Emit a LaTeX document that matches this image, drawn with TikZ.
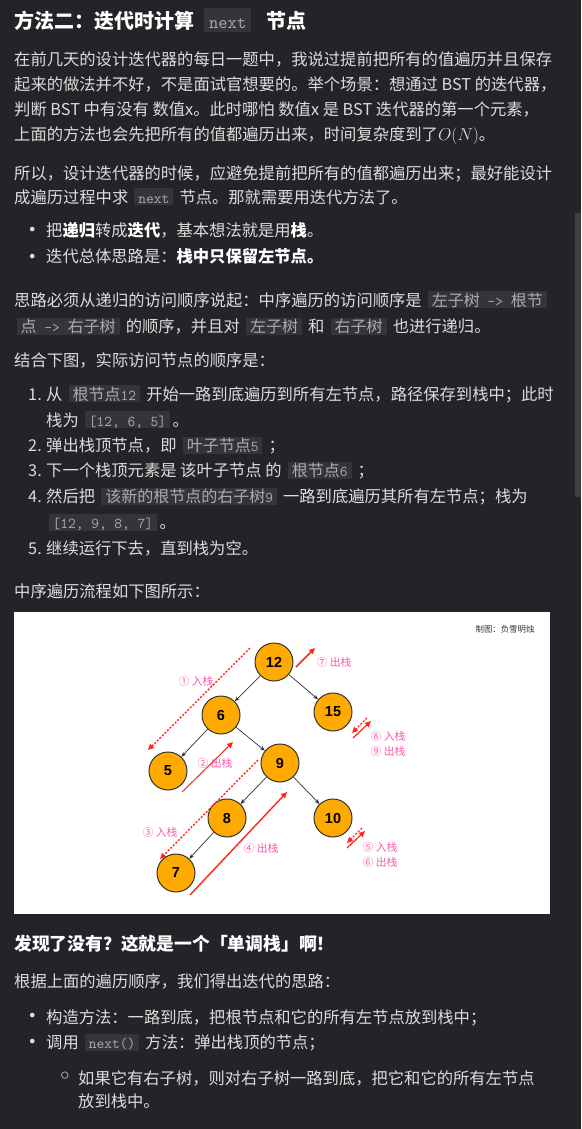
\documentclass[tikz,border=0pt]{standalone}
\usepackage{fontspec}
\usepackage{xcolor}
\usetikzlibrary{calc,arrows.meta}
\setmainfont{Noto Sans CJK SC}
\newfontfamily\dotfont{DejaVu Sans}
\newfontfamily\treefont{Liberation Sans}

\definecolor{pagebg}{RGB}{35,36,40}
\definecolor{bodytext}{RGB}{220,220,220}
\definecolor{codebg}{RGB}{52,53,57}
\definecolor{codetext}{RGB}{172,172,172}
\definecolor{barcol}{RGB}{62,63,67}
\definecolor{nodefill}{RGB}{255,170,0}
\definecolor{nodeline}{RGB}{51,51,51}
\definecolor{stackred}{RGB}{255,38,28}
\definecolor{stackpink}{RGB}{255,85,170}

\newcommand{\tcode}[1]{{\ttfamily\fontsize{15}{15}\selectfont #1}}
\newcommand{\code}[1]{\hspace{2.5pt}{\fontsize{16}{16}\selectfont\setlength{\fboxsep}{0pt}\colorbox{codebg}{\hspace{4pt}\rule[-2.4pt]{0pt}{17.3pt}\color{codetext}#1\hspace{4pt}}}\hspace{2.5pt}}
\newcommand{\bigcode}[1]{{\mdseries\setlength{\fboxsep}{0pt}\colorbox{codebg}{\hspace{5pt}\rule[-2.6pt]{0pt}{23.4pt}\color{codetext}\ttfamily\fontsize{18}{18}\selectfont #1\hspace{5pt}}}}
\newcommand{\hl}[1]{\textbf{\color{white}#1}}

\begin{document}
\begin{tikzpicture}[x=1pt,y=-1pt]
        \tikzstyle{body}=[anchor=base west,inner sep=0pt,text=bodytext,font=\fontsize{16.3}{16.3}\selectfont]
        \tikzstyle{ttl}=[anchor=base west,inner sep=0pt,text=white,font=\bfseries\fontsize{20}{20}\selectfont]
        \tikzstyle{num}=[anchor=base east,inner sep=0pt,text=bodytext,font=\fontsize{16.3}{16.3}\selectfont]
        \tikzstyle{bul}=[inner sep=0pt,text=bodytext,font=\dotfont\fontsize{16}{16}\selectfont]
        \tikzstyle{vert}=[circle,draw=nodeline,fill=nodefill,line width=1pt,minimum size=38pt,inner sep=0pt,font=\treefont\bfseries\fontsize{14.5}{14.5}\selectfont]
        \tikzstyle{link}=[draw=nodeline,line width=0.7pt,-{Stealth[length=5pt,width=4pt]}]
        \tikzstyle{push}=[draw=stackred,line width=1.4pt,dash pattern=on 2pt off 1.6pt,-{Triangle[length=6pt,width=5.5pt]}]
        \tikzstyle{pop}=[draw=stackred,line width=1.4pt,-{Triangle[length=6pt,width=5.5pt]}]
        \tikzstyle{tag}=[inner sep=0pt,text=stackpink,font=\fontsize{10.8}{10.8}\selectfont]
        \useasboundingbox (0,0) rectangle (581,1129);
        \fill[pagebg] (0,0) rectangle (581,1129);
        \fill[barcol] (575,213) rectangle (581,497);
        % Text above the figure
        \node[ttl] (title) at (14,29) {方法二：迭代时计算\hspace{10pt}\bigcode{next}\hspace{15pt}节点};
        \node[body] (p1a) at (14,66) {在前几天的设计迭代器的每日一题中，我说过提前把所有的值遍历并且保存};
        \node[body] (p1b) at (14,91) {起来的做法并不好，不是面试官想要的。举个场景：想通过 BST 的迭代器，};
        \node[body] (p1c) at (14,116) {判断 BST 中有没有 数值x。此时哪怕 数值x 是 BST 迭代器的第一个元素，};
        \node[body] (p1d) at (14,140) {上面的方法也会先把所有的值都遍历出来，时间复杂度到了{\fontsize{18.5}{18.5}\selectfont$O(N)$}。};
        \node[body] (p2a) at (14,179) {所以，设计迭代器的时候，应避免提前把所有的值都遍历出来；最好能设计};
        \node[body] (p2b) at (14,203) {成遍历过程中求 \code{\tcode{next}} 节点。那就需要用迭代方法了。};
        \node[bul] (b1) at (32.3,231) {•};
        \node[body] (b1t) at (46,236) {把\hl{递归}转成\hl{迭代}，基本想法就是用\hl{栈}。};
        \node[bul] (b2) at (32.3,258) {•};
        \node[body] (b2t) at (46,262.5) {迭代总体思路是：\hl{栈中只保留左节点。}};
        \node[body] (p3a) at (14,306) {思路必须从递归的访问顺序说起：中序遍历的访问顺序是 \code{左子树\tcode{ -> }根节}};
        \node[body] (p3b) at (14,332.5) {\code{点\tcode{ -> }右子树} 的顺序，并且对 \code{左子树} 和 \code{右子树} 也进行递归。};
        \node[body] (p4) at (14,366) {结合下图，实际访问节点的顺序是：};
        \node[num] (n1) at (42,400) {1.};
        \node[body] (s1a) at (46,400) {从 \code{根节点\tcode{12}} 开始一路到底遍历到所有左节点，路径保存到栈中；此时};
        \node[body] (s1b) at (46,426) {栈为 \code{\tcode{[12, 6, 5]}}。};
        \node[num] (n2) at (42,451.5) {2.};
        \node[body] (s2) at (46,451.5) {弹出栈顶节点，即 \code{叶子节点\tcode{5}} ；};
        \node[num] (n3) at (42,476.5) {3.};
        \node[body] (s3) at (46,476.5) {下一个栈顶元素是 该叶子节点 的 \code{根节点\tcode{6}} ；};
        \node[num] (n4) at (42,502.5) {4.};
        \node[body] (s4a) at (46,502.5) {然后把 \code{该新的根节点的右子树\tcode{9}} 一路到底遍历其所有左节点；栈为};
        \node[body] (s4b) at (46,528.5) {\code{\tcode{[12, 9, 8, 7]}}。};
        \node[num] (n5) at (42,554.5) {5.};
        \node[body] (s5) at (46,554.5) {继续运行下去，直到栈为空。};
        \node[body] (p5) at (14,597.5) {中序遍历流程如下图所示：};
        % The figure
        \fill[white] (14,612) rectangle (550,914);
        \node[inner sep=0pt,text=nodeline,font=\fontsize{8.4}{8.4}\selectfont] (credit) at (505,629) {制图：负雪明烛};
        \node[vert] (12) at (274,662) {12};
        \node[vert] (6) at ($(12)+(-53,53)$) {6};
        \node[vert] (15) at ($(12)+(59,50)$) {15};
        \node[vert] (5) at ($(6)+(-53,56)$) {5};
        \node[vert] (9) at ($(6)+(59,48)$) {9};
        \node[vert] (8) at ($(9)+(-53,55)$) {8};
        \node[vert] (10) at ($(9)+(53,55)$) {10};
        \node[vert] (7) at ($(8)+(-51,55)$) {7};
        \draw[link] (12)--(6);
        \draw[link] (12)--(15);
        \draw[link] (6)--(5);
        \draw[link] (6)--(9);
        \draw[link] (9)--(8);
        \draw[link] (9)--(10);
        \draw[link] (8)--(7);
        % Stack moves
        \coordinate (in1a) at ($(12)+(-24,-14)$);
        \coordinate (in1b) at ($(6)+(-73,35)$);
        \coordinate (out2a) at ($(5)+(14,21)$);
        \coordinate (out2b) at ($(6)+(12,27)$);
        \coordinate (in3a) at ($(9)+(-22,-3)$);
        \coordinate (in3b) at ($(7)+(-16,-14)$);
        \coordinate (out4a) at ($(7)+(14,22)$);
        \coordinate (out4b) at ($(9)+(7,29)$);
        \coordinate (out7a) at ($(12)+(22,5)$);
        \coordinate (out7b) at ($(12)+(41,-14)$);
        \coordinate (in8a) at ($(15)+(34,6)$);
        \coordinate (in8b) at ($(15)+(19,21)$);
        \coordinate (out9a) at ($(15)+(20,26)$);
        \coordinate (out9b) at ($(15)+(38,9)$);
        \coordinate (in5a) at ($(10)+(29,10)$);
        \coordinate (in5b) at ($(10)+(14,25)$);
        \coordinate (out6a) at ($(10)+(14,30)$);
        \coordinate (out6b) at ($(10)+(32,13)$);
        \draw[push] (in1a)--(in1b);
        \draw[pop,line width=1pt] (out2a)--(out2b);
        \draw[push] (in3a)--(in3b);
        \draw[pop] (out4a)--(out4b);
        \draw[pop,line width=1.6pt] (out7a)--(out7b);
        \draw[push,line width=1.2pt] (in8a)--(in8b);
        \draw[pop,line width=1.2pt] (out9a)--(out9b);
        \draw[push,line width=1.2pt] (in5a)--(in5b);
        \draw[pop,line width=1.2pt] (out6a)--(out6b);
        \node[tag] (l1) at (196,681) {① 入栈};
        \node[tag] (l2) at (215,763) {② 出栈};
        \node[tag] (l3) at (160,832) {③ 入栈};
        \node[tag] (l4) at (261,848) {④ 出栈};
        \node[tag] (l7) at (334,662) {⑦ 出栈};
        \node[tag] (l8) at (388,736) {⑧ 入栈};
        \node[tag] (l9) at (388,751) {⑨ 出栈};
        \node[tag] (l5) at (380,847) {⑤ 入栈};
        \node[tag] (l6) at (380,862) {⑥ 出栈};
        % Text below the figure
        \node[ttl,font=\bfseries\fontsize{17.8}{17.8}\selectfont] (title2) at (14,950) {发现了没有？这就是一个「单调栈」啊！};
        \node[body] (q1) at (14,987.5) {根据上面的遍历顺序，我们得出迭代的思路：};
        \node[bul] (c1) at (32.3,1017.5) {•};
        \node[body] (c1t) at (46,1023.5) {构造方法：一路到底，把根节点和它的所有左节点放到栈中；};
        \node[bul] (c2) at (32.3,1043.5) {•};
        \node[body] (c2t) at (46,1048.5) {调用 \code{\tcode{next()}} 方法：弹出栈顶的节点；};
        \node[bul,font=\dotfont\fontsize{24}{24}\selectfont] (d1) at (65,1078) {◦};
        \node[body] (d1a) at (78,1084) {如果它有右子树，则对右子树一路到底，把它和它的所有左节点};
        \node[body] (d1b) at (78,1107.5) {放到栈中。};
\end{tikzpicture}
\end{document}
